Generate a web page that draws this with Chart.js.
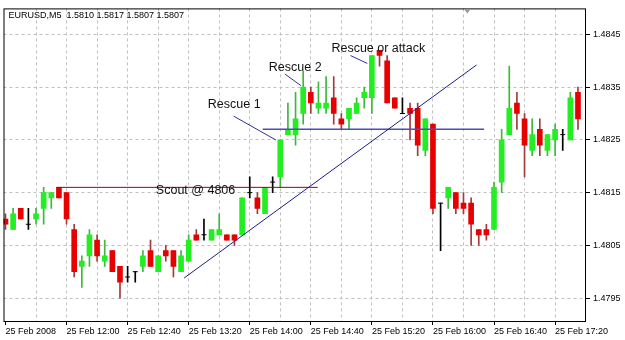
<!DOCTYPE html>
<html>
<head>
<meta charset="utf-8">
<script src="https://cdn.jsdelivr.net/npm/chart.js@4"></script>
<style>
html, body { margin: 0; padding: 0; background: #fff; }
#wrap { width: 625px; height: 340px; }
</style>
</head>
<body>
<div id="wrap"><canvas id="grafica"></canvas></div>
<script>
// EURUSD M5 bars, 25 Feb 2008 11:20 .. 17:35
const opens = [1.4810, 1.4808, 1.4812, 1.4809, 1.4810, 1.4812, 1.4814, 1.4816, 1.4815, 1.4808,
  1.4801, 1.4803, 1.4806, 1.4802, 1.4804, 1.4801, 1.4799, 1.4800, 1.4801, 1.4804,
  1.4800, 1.4804, 1.4804, 1.4800, 1.4802, 1.4807, 1.4807, 1.4806, 1.4807, 1.4807,
  1.4807, 1.4807, 1.4815, 1.4814, 1.4811, 1.4817, 1.4818, 1.4826, 1.4826, 1.4830,
  1.4834, 1.4831, 1.4831, 1.4833, 1.4829, 1.4829, 1.4830, 1.4833, 1.4833, 1.4842,
  1.4840, 1.4833, 1.4830, 1.4831, 1.4831, 1.4823, 1.4828, 1.4813, 1.4814, 1.4815,
  1.4813, 1.4813, 1.4808, 1.4808, 1.4808, 1.4817, 1.4826, 1.4832, 1.4829, 1.4823,
  1.4827, 1.4823, 1.4825, 1.4826, 1.4825, 1.4834];
const highs = [1.4811, 1.4812, 1.4812, 1.4812, 1.4812, 1.4816, 1.4815, 1.4816, 1.4815, 1.4809,
  1.4803, 1.4808, 1.4807, 1.4806, 1.4804, 1.4801, 1.4801, 1.4800, 1.4804, 1.4806,
  1.4803, 1.4805, 1.4804, 1.4804, 1.4807, 1.4808, 1.4810, 1.4808, 1.4811, 1.4807,
  1.4807, 1.4814, 1.4818, 1.4815, 1.4816, 1.4818, 1.4825, 1.4832, 1.4834, 1.4838,
  1.4835, 1.4836, 1.4837, 1.4837, 1.4830, 1.4831, 1.4833, 1.4835, 1.4841, 1.4842,
  1.4841, 1.4833, 1.4833, 1.4832, 1.4832, 1.4829, 1.4828, 1.4813, 1.4816, 1.4815,
  1.4815, 1.4814, 1.4808, 1.4809, 1.4817, 1.4827, 1.4839, 1.4834, 1.4830, 1.4829,
  1.4829, 1.4826, 1.4828, 1.4827, 1.4834, 1.4835];
const lows = [1.4808, 1.4808, 1.4810, 1.4808, 1.4809, 1.4809, 1.4812, 1.4814, 1.4809, 1.4799,
  1.4797, 1.4801, 1.4802, 1.4801, 1.4800, 1.4795, 1.4798, 1.4798, 1.4800, 1.4801,
  1.4800, 1.4802, 1.4799, 1.4800, 1.4802, 1.4806, 1.4806, 1.4806, 1.4807, 1.4806,
  1.4805, 1.4807, 1.4814, 1.4811, 1.4811, 1.4815, 1.4816, 1.4826, 1.4824, 1.4828,
  1.4830, 1.4830, 1.4830, 1.4828, 1.4827, 1.4827, 1.4830, 1.4831, 1.4830, 1.4839,
  1.4832, 1.4831, 1.4830, 1.4825, 1.4822, 1.4822, 1.4811, 1.4804, 1.4812, 1.4811,
  1.4811, 1.4805, 1.4805, 1.4806, 1.4808, 1.4815, 1.4826, 1.4827, 1.4818, 1.4822,
  1.4822, 1.4822, 1.4822, 1.4823, 1.4825, 1.4827];
const closes = [1.4809, 1.4811, 1.4810, 1.4809, 1.4811, 1.4815, 1.4815, 1.4814, 1.4810, 1.4800,
  1.4802, 1.4807, 1.4803, 1.4803, 1.4800, 1.4798, 1.4799, 1.4800, 1.4803, 1.4801,
  1.4803, 1.4803, 1.4801, 1.4803, 1.4806, 1.4806, 1.4807, 1.4808, 1.4808, 1.4806,
  1.4806, 1.4814, 1.4815, 1.4812, 1.4816, 1.4817, 1.4825, 1.4827, 1.4829, 1.4835,
  1.4832, 1.4832, 1.4832, 1.4830, 1.4828, 1.4831, 1.4832, 1.4834, 1.4841, 1.4841,
  1.4832, 1.4831, 1.4830, 1.4830, 1.4824, 1.4829, 1.4812, 1.4813, 1.4816, 1.4812,
  1.4812, 1.4809, 1.4807, 1.4807, 1.4816, 1.4825, 1.4831, 1.4830, 1.4824, 1.4826,
  1.4824, 1.4826, 1.4827, 1.4826, 1.4833, 1.4829];

// one time label every 8 bars
const xTickLabels = ['25 Feb 2008', '25 Feb 12:00', '25 Feb 12:40', '25 Feb 13:20', '25 Feb 14:00',
  '25 Feb 14:40', '25 Feb 15:20', '25 Feb 16:00', '25 Feb 16:40', '25 Feb 17:20'];
const yTicks = [1.4795, 1.4805, 1.4815, 1.4825, 1.4835, 1.4845];
const header = 'EURUSD,M5  1.5810 1.5817 1.5807 1.5807';

// objects drawn on the chart, in bar index / price
const scoutLine = [6.7, 1.4816, 40.9, 1.4816];
const trendLine = [23.4, 1.47988, 61.7, 1.48392];
const supportLine = [33.7, 1.4827, 62.7, 1.4827];
const pointers = [
  [29.9, 1.48295, 35.4, 1.48250],
  [36.6, 1.48375, 38.7, 1.48353],
  [45.2, 1.48410, 47.4, 1.48395]
];
const notes = [
  ['Scout @ 4806', 19.7, 1.48148],
  ['Rescue 1', 26.5, 1.48310],
  ['Rescue 2', 34.5, 1.48380],
  ['Rescue or attack', 42.7, 1.48416]
];

const UP = '#22ee22', DOWN = '#e60000', UP_WICK = '#3cb83c', DOWN_WICK = '#a03c3c';

const wicks = [], bodies = [], dojis = [];
for (let i = 0; i < opens.length; i++) {
  const o = opens[i], c = closes[i];
  const dir = c > o ? 1 : (c < o ? -1 : 0);
  wicks.push({ x: i, y: [lows[i], highs[i]], dir: dir });
  if (dir === 0) {
    dojis.push({ x: i, y: c });
  } else {
    bodies.push({ x: i, y: [Math.min(o, c), Math.max(o, c)], dir: dir });
  }
}

const drawObjects = {
  id: 'drawObjects',
  afterDatasetsDraw(chart) {
    const { ctx, chartArea, scales: { x, y } } = chart;
    const seg = (l, color, width) => {
      ctx.strokeStyle = color;
      ctx.lineWidth = width;
      ctx.beginPath();
      ctx.moveTo(x.getPixelForValue(l[0]), y.getPixelForValue(l[1]));
      ctx.lineTo(x.getPixelForValue(l[2]), y.getPixelForValue(l[3]));
      ctx.stroke();
    };
    ctx.save();
    ctx.beginPath();
    ctx.rect(chartArea.left, chartArea.top, chartArea.width, chartArea.height);
    ctx.clip();
    seg(scoutLine, '#8c0a0a', 1);
    seg(supportLine, '#4d4db8', 1.5);
    seg(trendLine, '#1c1c8c', 1);
    pointers.forEach(p => seg(p, '#30309a', 1));
    ctx.fillStyle = '#111';
    ctx.font = '12.5px "Liberation Sans", Arial, sans-serif';
    ctx.textBaseline = 'alphabetic';
    ctx.textAlign = 'left';
    notes.forEach(n => ctx.fillText(n[0], x.getPixelForValue(n[1]), y.getPixelForValue(n[2])));
    ctx.restore();
  },
  afterDraw(chart) {
    const { ctx, chartArea, scales: { x } } = chart;
    ctx.save();
    ctx.strokeStyle = '#000';
    ctx.lineWidth = 1;
    ctx.strokeRect(chartArea.left + 0.5, chartArea.top + 0.5, chartArea.width - 1, chartArea.height - 1);
    // chart shift marker
    const sx = x.getPixelForValue(60.5);
    ctx.fillStyle = '#999';
    ctx.beginPath();
    ctx.moveTo(sx - 3, chartArea.top + 1);
    ctx.lineTo(sx + 3, chartArea.top + 1);
    ctx.lineTo(sx, chartArea.top + 5);
    ctx.closePath();
    ctx.fill();
    ctx.fillStyle = '#000';
    ctx.font = '9px "Liberation Sans", Arial, sans-serif';
    ctx.textBaseline = 'alphabetic';
    ctx.fillText(header, chartArea.left + 5, chartArea.top + 10);
    ctx.restore();
  }
};

const tickFont = { family: '"Liberation Sans", Arial, sans-serif', size: 9 };

new Chart(document.getElementById('grafica'), {
  type: 'bar',
  data: {
    datasets: [
      {
        label: 'doji',
        type: 'line',
        data: dojis,
        showLine: false,
        pointStyle: 'line',
        pointRadius: 2.5,
        pointHoverRadius: 2.5,
        borderColor: '#000',
        borderWidth: 1,
        order: 0
      },
      {
        label: 'body',
        data: bodies,
        barThickness: 5,
        grouped: false,
        borderWidth: 0,
        backgroundColor: c => (c.raw && c.raw.dir > 0 ? UP : DOWN),
        order: 1
      },
      {
        label: 'wick',
        data: wicks,
        barThickness: 1,
        grouped: false,
        borderWidth: 0,
        backgroundColor: c => (!c.raw ? '#000' : c.raw.dir > 0 ? UP_WICK : (c.raw.dir < 0 ? DOWN_WICK : '#000')),
        order: 2
      }
    ]
  },
  options: {
    responsive: true,
    maintainAspectRatio: false,
    animation: false,
    layout: { padding: { left: 2, top: 2, right: 0, bottom: 0 } },
    plugins: { legend: { display: false }, tooltip: { enabled: false } },
    scales: {
      x: {
        type: 'linear',
        min: -0.261,
        max: 76.05,
        offset: false,
        afterBuildTicks: s => { s.ticks = [0, 4, 8, 12, 16, 20, 24, 28, 32, 36, 40, 44, 48, 52, 56, 60, 64, 68, 72].map(v => ({ value: v })); },
        afterFit: s => { s.height = 18; },
        border: { display: false, dash: [3, 3] },
        grid: {
          offset: false,
          color: c => (c.tick && c.tick.value === 0 ? 'rgba(0,0,0,0)' : '#c0c0c0'),
          lineWidth: 1,
          drawTicks: true,
          tickLength: 3,
          tickBorderDash: [],
          tickColor: c => (c.tick && c.tick.value % 8 === 0 ? '#000' : 'rgba(0,0,0,0)')
        },
        ticks: {
          autoSkip: false,
          maxRotation: 0,
          minRotation: 0,
          align: 'start',
          padding: 1,
          color: '#000',
          font: tickFont,
          callback: v => (v % 8 === 0 ? xTickLabels[v / 8] : '')
        }
      },
      y: {
        position: 'right',
        min: 1.479046,
        max: 1.484994,
        afterBuildTicks: s => { s.ticks = yTicks.map(v => ({ value: v })); },
        afterFit: s => { s.width = 39; },
        border: { display: false, dash: [3, 3] },
        grid: {
          color: '#c0c0c0',
          lineWidth: 1,
          drawTicks: true,
          tickLength: 4,
          tickBorderDash: [],
          tickColor: '#000'
        },
        ticks: {
          padding: 3,
          color: '#000',
          font: tickFont,
          callback: v => v.toFixed(4)
        }
      }
    }
  },
  plugins: [drawObjects]
});
</script>
</body>
</html>
